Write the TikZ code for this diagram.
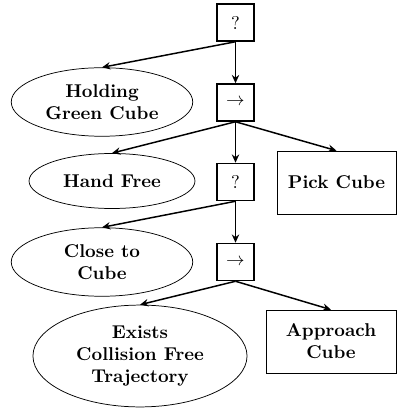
\documentclass[tikz,border=0pt]{standalone}
\usetikzlibrary{shapes.geometric,arrows.meta}
\begin{document}
\begin{tikzpicture}[x=0.54pt,y=-0.54pt,
  ctrl/.style={draw,thick,minimum size=20pt,inner sep=0pt},
  cond/.style={draw,ellipse,inner sep=0pt,font=\bfseries,align=center},
  act/.style={draw,inner sep=0pt,font=\bfseries,align=center},
  edge/.style={thick,-{Stealth[length=4.5pt,width=4pt,inset=1.5pt]}}]
\useasboundingbox (0,0) rectangle (397,408);
\node[ctrl] (fb1) at (235.5,22.5) {?};
\node[ctrl] (sq1) at (235.5,102.5) {$\rightarrow$};
\node[cond,minimum width=98pt,minimum height=37pt] (hold) at (102,102) {Holding\\Green Cube};
\node[cond,minimum width=89.6pt,minimum height=29.7pt] (hand) at (112,181) {Hand Free};
\node[ctrl] (fb2) at (235.5,182) {?};
\node[act,minimum width=64.3pt,minimum height=34pt] (pick) at (336.5,182.5) {Pick Cube};
\node[cond,minimum width=98pt,minimum height=37pt] (close) at (102,262) {Close to\\Cube};
\node[ctrl] (sq2) at (235.5,262) {$\rightarrow$};
\node[cond,minimum width=115.6pt,minimum height=55pt] (exists) at (140,356) {Exists\\Collision Free\\Trajectory};
\node[act,minimum width=70.2pt,minimum height=34pt] (appr) at (331,341.5) {Approach\\Cube};
\draw[edge] (fb1.south) -- (hold.north);
\draw[edge] (fb1.south) -- (sq1.north);
\draw[edge] (sq1.south) -- (hand.north);
\draw[edge] (sq1.south) -- (fb2.north);
\draw[edge] (sq1.south) -- (pick.north);
\draw[edge] (fb2.south) -- (close.north);
\draw[edge] (fb2.south) -- (sq2.north);
\draw[edge] (sq2.south) -- (exists.north);
\draw[edge] (sq2.south) -- (appr.north);
\end{tikzpicture}
\end{document}
